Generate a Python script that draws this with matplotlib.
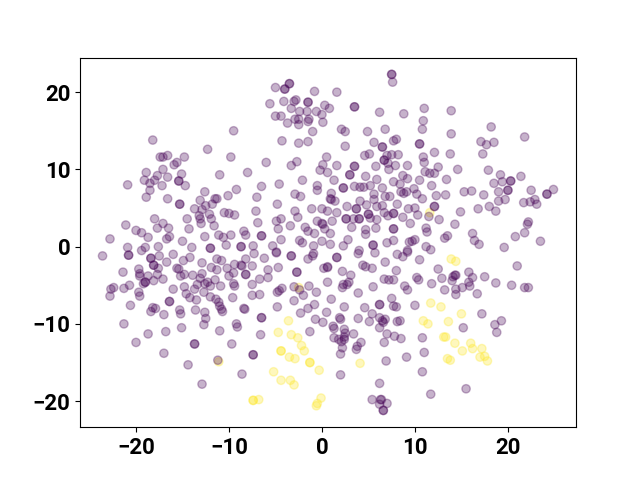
import matplotlib
matplotlib.use('Agg')
import matplotlib.pyplot as plt
import numpy as np

# t-SNE embedding, (x, y), repeats are the darker spots
class1 = [
    (-11.1,-14.9),(-3.6,-9.6),(-4.7,-11.1),(-3.3,-11.4),(-2.6,-11.8),(-2.2,-12.8),(-1.9,-13.5),
    (-4.4,-13.5),(-4.4,-13.5),(-3.5,-14.3),(-2.9,-14.5),(-1.3,-15.0),(-1.3,-15.0),(-0.3,-16.0),
    (4.1,-15.1),(-5.2,-16.2),(-4.4,-17.3),(-3.4,-17.3),(-3.0,-17.9),(-7.4,-19.9),(-7.4,-19.9),
    (-6.8,-19.8),(-0.1,-19.6),(-0.5,-20.3),(-0.6,-20.6),(-2.5,-5.3),(11.6,4.4),
    (13.9,-1.6),(14.4,-1.9),(11.7,-7.3),(12.8,-7.8),(15.0,-8.7),(10.9,-9.6),(11.4,-10.0),
    (13.6,-9.7),(13.1,-11.7),(13.3,-11.7),(14.3,-12.5),(16.0,-12.5),(16.2,-13.2),(15.1,-13.5),
    (17.2,-13.2),(13.5,-14.5),(13.8,-14.7),(17.0,-14.3),(17.5,-14.2),(17.8,-14.8),
]

class0_upper_left = [
    (-9.5,15.0),(-18.2,13.8),(-12.3,12.6),(-17.4,11.6),(-17.1,11.6),(-16.6,11.8),(-14.8,11.6),
    (-9.8,11.6),(-15.6,10.9),(-15.9,10.6),(-17.1,10.0),(-18.9,9.6),(-15.1,9.4),(-17.7,9.2),
    (-16.6,9.0),(-11.0,9.3),(-8.0,9.6),(-19.1,8.6),(-18.0,8.6),(-18.5,8.2),(-20.9,8.0),
    (-15.4,8.5),(-15.4,8.5),(-17.2,7.9),(-14.7,7.9),(-18.5,7.3),(-9.2,7.4),(-12.6,7.1),
    (-18.9,6.4),(-16.6,6.2),(-10.1,6.6),(-11.5,6.2),(-11.3,6.2),(-13.1,6.0),(-11.8,5.5),
    (-12.5,5.3),(-15.3,5.5),(-15.3,5.5),(-13.7,4.9),(-12.9,4.8),(-10.5,4.4),(-10.0,4.3),
    (-9.4,4.1),(-12.1,4.2),(-13.2,4.0),(-13.1,3.6),(-11.9,3.6),(-18.0,3.6),(-14.5,3.6),
    (-13.0,3.0),(-17.1,3.0),(-21.1,2.8),(-11.6,2.7),(-17.7,2.4),(-16.5,2.4),(-14.3,2.3),
    (-20.0,2.1),(-19.4,1.8),(-18.7,1.2),(-22.8,1.0),(-16.4,1.3),(-16.7,1.0),(-12.6,1.3),
    (-11.1,1.5),(-10.6,1.2),(-9.8,1.5),(-8.4,2.0),(-8.2,1.5),(-15.0,0.7),(-10.3,0.2),
    (-8.7,0.0),(-8.7,0.0),(-20.9,-0.1),(-19.0,-0.1),(-19.4,-0.5),(-17.6,0.0),(-14.0,-0.1),
    (-12.0,-0.2),(-12.0,-0.2),
]

class0_lower_left = [
    (-23.6,-1.2),(-20.8,-1.1),(-20.8,-1.1),(-18.4,-1.5),(-18.4,-1.5),(-17.5,-1.2),(-16.0,-1.0),
    (-14.2,-1.4),(-14.9,-1.8),(-16.7,-2.0),(-18.1,-2.4),(-18.1,-2.4),(-11.3,-1.6),(-10.8,-1.8),
    (-8.2,-1.6),(-12.9,-2.1),(-9.4,-2.3),(-8.7,-2.4),(-11.9,-2.7),(-10.2,-2.8),(-17.6,-2.8),
    (-19.7,-2.9),(-15.6,-2.8),(-15.4,-2.9),(-11.3,-3.0),(-21.4,-3.3),(-19.6,-3.5),(-19.6,-3.8),
    (-17.7,-3.6),(-18.7,-3.8),(-14.8,-3.6),(-15.2,-3.8),(-13.9,-3.7),(-12.9,-3.5),(-10.0,-3.8),
    (-9.5,-3.4),(-8.2,-3.6),(-17.1,-4.2),(-18.1,-4.4),(-19.0,-4.6),(-19.0,-4.6),(-19.2,-4.8),
    (-13.1,-4.1),(-11.5,-4.3),(-12.3,-4.6),(-12.6,-4.8),(-13.4,-4.9),(-9.5,-4.8),(-9.4,-5.1),
    (-12.0,-5.1),(-10.9,-5.1),(-20.7,-5.0),(-21.3,-5.4),(-22.4,-5.3),(-22.7,-5.5),(-14.8,-5.2),
    (-16.0,-5.5),(-13.7,-5.5),(-12.7,-5.9),(-19.7,-5.9),(-19.6,-6.4),(-22.8,-6.4),(-14.6,-6.1),
    (-14.2,-6.6),(-12.0,-6.5),(-13.5,-6.9),(-9.6,-6.6),(-16.4,-7.1),(-16.4,-7.1),(-11.4,-6.8),
    (-11.1,-7.2),(-20.6,-7.6),(-18.2,-7.9),(-17.9,-8.0),(-18.4,-8.4),(-15.3,-8.2),(-15.2,-8.7),
    (-13.6,-8.2),(-11.0,-7.7),(-10.8,-8.1),(-10.7,-8.4),(-8.4,-8.0),(-8.3,-8.1),(-17.0,-8.8),
    (-12.6,-8.5),(-12.5,-9.3),(-12.7,-10.1),(-21.3,-10.0),(-9.2,-10.0),(-9.1,-10.4),(-15.1,-10.5),
    (-16.8,-11.0),(-18.7,-11.3),(-11.0,-10.9),(-20.0,-12.4),(-13.7,-12.6),(-13.7,-12.6),
    (-9.7,-12.6),(-17.0,-13.8),(-14.4,-15.3),(-11.2,-14.7),(-8.6,-16.5),(-12.9,-17.8),
]

class0_upper_mid = [
    (7.5,22.3),(7.5,22.3),(7.6,21.3),(-3.5,21.1),(-3.5,21.1),(-4.0,20.4),(-4.0,20.4),(-5.0,20.6),
    (-0.8,20.1),(1.6,20.0),(-5.6,18.5),(-4.1,18.8),(-3.0,18.8),(-2.8,19.0),(-1.5,18.7),(-1.5,18.7),
    (0.3,18.3),(0.8,17.9),(3.5,18.1),(3.5,18.1),(-3.3,17.9),(-2.4,17.5),(-1.6,17.5),(-0.6,17.5),
    (0.0,17.1),(-5.0,16.9),(-4.4,16.9),(6.2,17.4),(8.8,17.2),(-2.9,16.5),(-2.5,16.5),(-1.4,16.5),
    (-1.5,16.2),(-3.7,16.0),(-2.5,15.8),(0.1,16.1),(2.1,15.2),(2.5,14.9),(-1.0,14.9),(4.9,14.9),
    (6.8,15.2),(-4.3,13.7),(-2.5,13.4),(-1.5,13.6),(2.5,13.0),(5.6,13.5),(8.0,13.9),(7.7,13.7),
    (6.5,12.9),(6.5,12.9),(4.6,11.8),(5.1,12.0),(7.5,11.9),(8.2,11.9),(7.0,11.8),(0.5,11.6),
    (6.7,11.2),(6.7,11.2),(7.1,10.8),(-6.0,10.9),(-2.7,11.0),(-3.3,10.5),(0.1,10.6),(1.6,10.5),
    (3.5,10.4),(3.5,10.4),(5.8,10.4),(7.9,10.5),(7.2,10.0),(9.2,10.5),(-0.2,9.9),(0.6,9.6),
    (3.0,9.3),(3.0,9.3),(4.7,9.1),(8.7,9.2),(9.2,8.8),(-2.1,8.6),(1.3,8.6),(5.9,8.7),(7.7,8.4),
    (-4.6,8.1),(-6.5,7.8),(-0.5,7.9),(-0.5,7.3),(3.5,7.8),(4.1,7.7),(4.5,7.7),(5.2,7.9),(6.5,7.6),
    (2.3,7.6),(2.3,7.6),(8.4,8.1),(8.5,7.1),(8.8,6.9),(9.1,7.1),(5.6,6.8),(-2.9,6.8),(-2.3,6.5),
    (-7.0,6.4),(1.0,6.9),(0.9,6.2),(1.0,6.1),(1.4,5.9),(5.6,6.1),(6.8,6.5),(7.3,6.5),(-4.8,5.5),
    (4.1,5.9),(2.7,5.2),(3.7,4.9),(3.7,4.9),(4.8,5.4),(5.9,5.2),(6.5,5.3),(8.1,5.5),(9.3,4.9),
    (-1.1,4.9),(0.0,4.9),(0.6,4.6),(1.6,4.4),(-7.1,4.6),(-2.9,4.6),(-2.6,3.8),(6.7,4.4),(5.0,4.2),
    (5.0,4.2),(5.2,3.7),(7.1,4.0),(7.7,4.3),(7.7,4.3),(8.7,3.8),(2.6,3.6),(2.6,3.6),(3.4,3.6),
    (4.0,3.6),(4.0,3.6),(5.9,3.5),(-4.4,3.6),(-4.9,3.3),(-6.9,3.1),(-0.5,3.3),(0.0,3.0),(0.1,2.9),
    (1.1,3.3),(-4.7,2.3),(-3.4,2.7),(-1.8,2.5),(-1.5,2.0),(-0.8,1.7),(0.3,2.3),(0.9,1.7),(3.2,2.5),
    (4.7,2.2),(4.7,1.6),(5.8,2.4),(7.7,2.3),(7.7,2.3),(-6.5,1.4),(-6.5,1.4),(-4.4,0.9),(-2.4,0.8),
    (-2.1,0.5),(0.0,0.7),(0.9,0.3),(2.8,0.9),(2.3,0.1),(7.7,0.8),(7.0,0.5),(5.5,0.2),(5.5,0.2),
    (-7.4,0.1),(-5.3,0.1),(-0.9,0.1),(4.0,-0.5),(9.4,0.6),
]

class0_lower_mid = [
    (-7.3,-0.9),(-4.9,-0.7),(-4.9,-0.8),(-3.3,-1.2),(-3.3,-1.2),(-0.9,-0.9),(-1.0,-1.2),(-1.5,-1.6),
    (1.6,-1.4),(1.6,-1.4),(3.9,-0.9),(5.7,-0.8),(8.1,-1.0),(8.7,-1.3),(9.2,-0.7),(-6.2,-1.5),
    (6.8,-2.0),(-7.5,-2.5),(-8.6,-2.5),(-4.7,-2.7),(-5.8,-3.0),(4.4,-2.4),(4.7,-2.6),(5.4,-2.8),
    (0.2,-2.8),(0.6,-2.6),(0.6,-2.7),(-2.7,-3.3),(-2.7,-3.3),(2.2,-3.2),(8.0,-3.1),(-8.2,-3.6),
    (-5.8,-4.0),(-6.7,-4.2),(3.1,-3.7),(6.7,-4.2),(7.2,-4.3),(7.7,-4.3),(0.6,-4.6),(2.9,-4.6),
    (2.7,-4.9),(2.3,-4.9),(2.2,-5.3),(-7.5,-4.9),(-4.3,-5.4),(-4.6,-5.7),(-4.8,-5.9),(-3.0,-5.2),
    (-1.4,-5.1),(5.5,-5.2),(8.9,-5.1),(9.2,-5.6),(-0.6,-5.9),(-2.4,-5.6),(-2.0,-6.3),(-7.5,-6.3),
    (-6.7,-6.2),(3.9,-6.0),(1.0,-6.8),(-3.0,-7.0),(7.5,-6.7),(6.2,-7.5),(6.2,-7.5),(-0.8,-7.5),
    (-4.8,-7.8),(-1.5,-8.0),(2.4,-7.8),(4.6,-7.9),(7.7,-7.7),(8.0,-7.8),(-2.3,-8.6),(0.5,-8.5),
    (5.4,-8.7),(-6.5,-9.2),(-6.5,-9.2),(1.9,-9.2),(2.0,-9.4),(3.9,-9.3),(6.2,-9.2),(6.8,-9.4),
    (6.5,-9.6),(6.6,-9.8),(-0.7,-9.4),(0.1,-9.8),(5.1,-9.7),(8.1,-9.7),(8.4,-9.6),(6.2,-10.5),
    (1.2,-10.3),(1.3,-10.6),(-1.3,-11.0),(2.4,-10.7),(2.5,-11.2),(3.4,-11.3),(-6.6,-11.4),(7.0,-11.3),
    (7.8,-11.6),(8.5,-11.9),(1.3,-11.8),(1.8,-12.0),(2.4,-11.7),(2.1,-12.3),(2.4,-12.0),(6.7,-12.4),
    (4.2,-12.4),(3.8,-12.9),(3.7,-13.3),(2.2,-13.1),(2.0,-13.9),(-7.4,-14.0),(-7.4,-14.0),(9.1,-14.3),
    (6.9,-14.8),(2.0,-16.6),(6.2,-17.7),(5.4,-19.8),(6.3,-19.8),(6.4,-19.8),(6.2,-20.4),(7.0,-20.3),
    (6.6,-21.2),(6.6,-21.2),
]

class0_right = [
    (11.0,17.9),(13.9,17.6),(10.9,16.3),(10.8,15.2),(18.2,15.5),(13.9,14.6),(21.8,14.2),(17.1,13.6),
    (17.7,13.2),(18.5,13.5),(10.5,13.3),(10.5,13.3),(12.1,12.2),(13.8,12.0),(17.3,12.0),(10.9,11.6),
    (11.0,10.9),(12.5,10.3),(14.6,10.0),(17.9,9.9),(11.1,9.7),(11.6,9.5),(12.1,9.5),(19.2,9.3),
    (21.4,9.1),(13.4,8.7),(10.5,8.6),(20.3,8.5),(20.3,8.5),(19.4,8.4),(18.5,8.2),(11.8,7.9),(9.9,7.5),
    (24.9,7.4),(22.5,7.3),(15.3,7.1),(16.1,7.2),(19.0,7.1),(20.0,7.3),(20.0,7.3),(24.2,6.8),(24.2,6.8),
    (10.2,6.8),(13.3,6.7),(12.3,6.6),(17.4,6.7),(10.8,6.2),(19.7,6.1),(19.0,5.9),(22.9,6.1),(21.7,5.7),
    (22.4,5.8),(23.1,5.5),(12.1,5.2),(12.1,5.2),(10.0,5.0),(18.0,5.2),(16.8,4.9),(18.7,4.6),(14.9,4.5),
    (10.3,4.1),(11.5,3.9),(12.6,3.5),(9.5,3.0),(14.3,2.9),(22.2,3.2),(22.1,2.9),(11.2,2.4),(11.3,1.9),
    (21.8,1.8),(16.2,1.7),(20.8,1.3),(13.5,1.4),(13.2,1.1),(23.5,0.7),(16.4,0.8),(16.9,0.3),(10.0,0.9),
    (9.7,0.7),(19.6,-0.1),(11.2,0.0),(11.7,-0.4),(9.2,-0.5),(10.5,-1.7),(21.0,-2.5),(12.5,-2.9),
    (15.8,-3.3),(14.3,-3.7),(14.1,-3.9),(14.4,-3.7),(16.2,-4.0),(17.5,-3.9),(10.2,-4.0),(10.4,-4.3),
    (12.9,-4.1),(14.0,-4.4),(11.8,-4.8),(18.7,-4.7),(15.8,-4.6),(15.9,-5.1),(15.1,-5.3),(20.4,-5.0),
    (21.8,-5.3),(22.2,-5.3),(14.4,-5.5),(13.2,-5.6),(14.4,-6.2),(16.7,-6.1),(10.0,-7.6),(17.2,-8.7),
    (19.3,-9.6),(18.6,-10.1),(15.2,-10.5),(18.8,-11.1),(10.8,-11.8),(11.0,-13.7),(10.8,-16.2),
    (15.5,-18.4),(11.7,-19.1),
]

class0 = class0_upper_left + class0_lower_left + class0_upper_mid + class0_lower_mid + class0_right
points = np.array(class1 + class0)
labels = [1] * len(class1) + [0] * len(class0)

plt.rcParams['font.family'] = ['Roboto', 'DejaVu Sans']
plt.rcParams['font.weight'] = 'bold'
plt.rcParams['font.size'] = 16

fig, ax = plt.subplots()
ax.scatter(points[:, 0], points[:, 1], c=labels, alpha=0.3)
ax.set_xticks([-20, -10, 0, 10, 20])
ax.set_yticks([-20, -10, 0, 10, 20])

fig.savefig('out.png')
